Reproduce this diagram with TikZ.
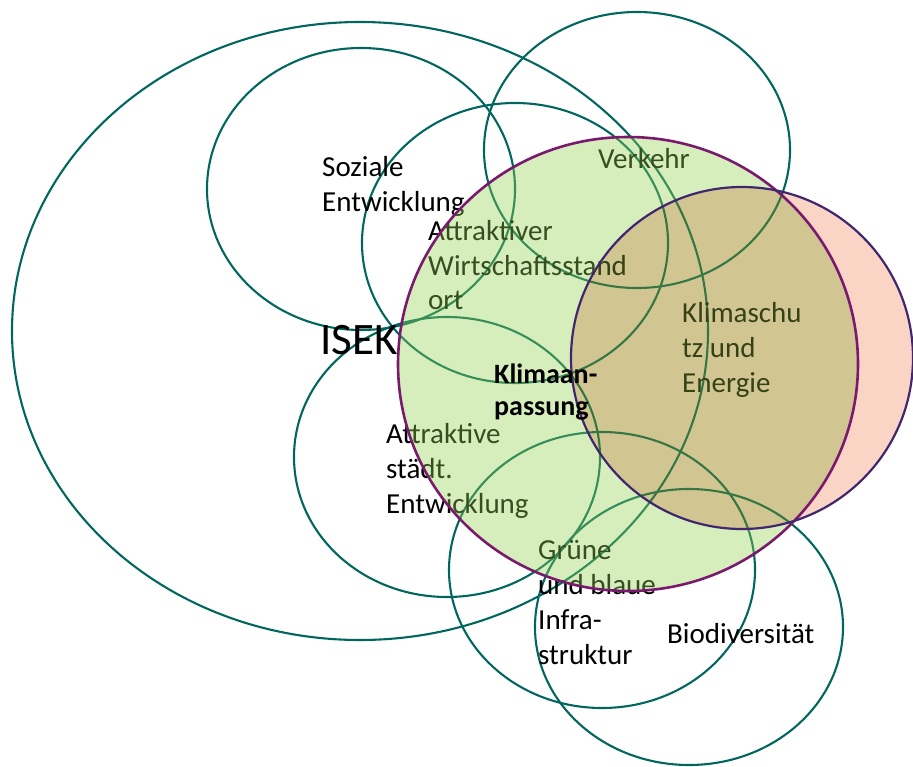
\documentclass[tikz,border=0pt]{standalone}
\usepackage{fontspec}
\setmainfont{Carlito}
\definecolor{ringteal}{RGB}{0,102,94}
\definecolor{anpassline}{RGB}{122,26,110}
\definecolor{schutzline}{RGB}{64,38,110}
\definecolor{anpassfill}{RGB}{146,208,80}
\definecolor{schutzfill}{RGB}{250,213,198}
\begin{document}
\begin{tikzpicture}[x=1pt,y=-1pt,
        ring/.style={draw=ringteal,line width=2.1pt},
        txt/.style={anchor=base west,inner sep=0pt,align=left,font=\fontsize{29}{35}\selectfont}]
    \useasboundingbox (0,0) rectangle (913,767);
    \draw[ring] (360,331) ellipse [x radius=348pt, y radius=309pt];
    \draw[ring] (361,189) ellipse [x radius=154pt, y radius=141pt];
    \draw[ring] (637,150) ellipse [x radius=153pt, y radius=138pt];
    \draw[ring] (515,243) ellipse [x radius=153pt, y radius=140pt];
    \draw[ring] (447,457) ellipse [x radius=153pt, y radius=140pt];
    \draw[ring] (602,570) ellipse [x radius=153pt, y radius=138pt];
    \draw[ring] (689,627) ellipse [x radius=154pt, y radius=138pt];
    \node[txt] (soziale) at (322,212) {Soziale\\Entwicklung};
    \node[txt] (verkehr) at (598,169) {Verkehr};
    \node[txt] (wirtschaft) at (428,310) {Attraktiver\\Wirtschaftsstand\\ort};
    \node[txt] (staedt) at (386,513) {Attraktive\\städt.\\Entwicklung};
    \node[txt] (gruen) at (538,664) {Grüne\\und blaue\\Infra-\\struktur};
    \node[txt] (bio) at (667,643) {Biodiversität};
    \node[txt] (schutz) at (682,392) {Klimaschu\\tz und\\Energie};
    \node[anchor=base west,inner sep=0pt,font=\fontsize{45}{50}\selectfont] (isek) at (320,354) {ISEK};
    \fill[anpassfill,fill opacity=0.38] (628,364) ellipse [x radius=230pt, y radius=227pt];
    \begin{scope}[blend mode=multiply]
        \fill[schutzfill] (742,358) circle [radius=171pt];
    \end{scope}
    \draw[anpassline,line width=2.6pt] (628,364) ellipse [x radius=230pt, y radius=227pt];
    \draw[schutzline,line width=2.2pt] (742,358) circle [radius=171pt];
    \node[anchor=base west,inner sep=0pt,align=left,font=\fontsize{28}{32}\selectfont\bfseries] (anpassung) at (494,415) {Klimaan-\\passung};
\end{tikzpicture}
\end{document}
